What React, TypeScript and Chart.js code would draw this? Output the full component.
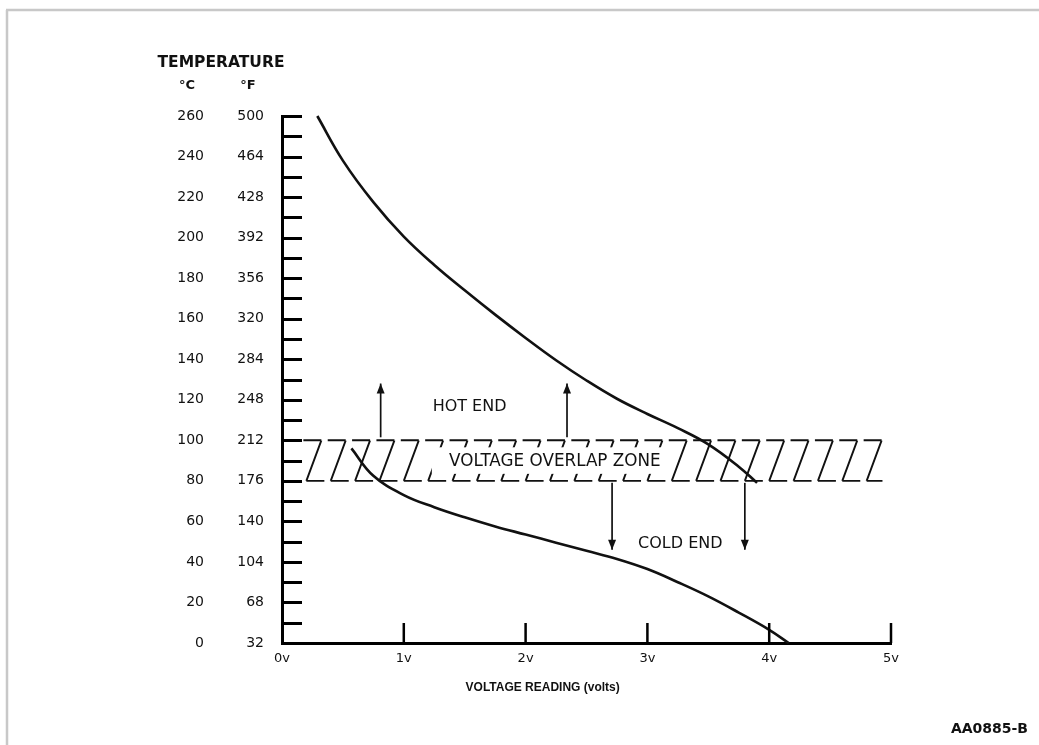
import React, { useEffect, useRef } from 'react';
import { Chart, registerables } from 'chart.js';

Chart.register(...registerables);

const FONT = "'DejaVu Sans', 'Liberation Sans', sans-serif";
const TITLE_FONT = "'Liberation Sans', Arial, sans-serif";

// Axis ticks
const celsiusTicks = [0, 20, 40, 60, 80, 100, 120, 140, 160, 180, 200, 220, 240, 260];
const celsiusLabels = ['0', '20', '40', '60', '80', '100', '120', '140', '160', '180', '200', '220', '240', '260'];
const fahrenheitLabels = ['32', '68', '104', '140', '176', '212', '248', '284', '320', '356', '392', '428', '464', '500'];
const minorCelsiusStep = 10;
const voltTicks = [0, 1, 2, 3, 4, 5];
const voltLabels = ['0v', '1v', '2v', '3v', '4v', '5v'];
const xAxisTitle = 'VOLTAGE READING (volts)';
const xAxisTitleVolt = 2.14;

// Curves
const hotEndVolts = [0.29, 0.5, 0.75, 1.0, 1.25, 1.5, 1.75, 2.0, 2.25, 2.5, 2.75, 3.0, 3.25, 3.5, 3.75, 3.9];
const hotEndTemps = [260, 238, 217.5, 200.5, 186.5, 174, 162, 150.5, 139.5, 129.5, 120.5, 113, 106, 98, 87, 79];
const coldEndVolts = [0.57, 0.75, 1.0, 1.25, 1.5, 1.75, 2.0, 2.25, 2.5, 2.75, 3.0, 3.25, 3.5, 3.75, 4.0, 4.16];
const coldEndTemps = [96, 82.5, 73, 67, 62, 57.5, 53.5, 49.5, 45.5, 41.5, 36.5, 30, 23, 15, 6.5, 0];

// Overlap zone
const overlapZoneVolts = [0.2, 4.93];
const overlapZoneTemps = [80, 100];
const hatchStepVolts = 0.2;
const overlapTextGapVolts = [1.23, 3.16];

// Arrows
const upArrowVolts = [0.81, 2.34];
const upArrowTemps = [100, 128];
const downArrowVolts = [2.71, 3.8];
const downArrowTemps = [80, 46];

// Annotations
const annotationTexts = ['HOT END', 'VOLTAGE OVERLAP ZONE', 'COLD END'];
const annotationVolts = [1.54, 2.24, 3.27];
const annotationTemps = [116.5, 89.3, 48.8];
const annotationSizes = [16, 16.8, 16];

const toPoints = (xs: number[], ys: number[]) => xs.map((x, i) => ({ x, y: ys[i] }));

const overlayPlugin = {
  id: 'overlay',
  beforeDraw(chart: any) {
    const ctx = chart.ctx;
    ctx.save();
    ctx.fillStyle = '#fff';
    ctx.fillRect(0, 0, chart.width, chart.height);
    ctx.strokeStyle = '#c8c8c8';
    ctx.lineWidth = 2.5;
    ctx.beginPath();
    ctx.moveTo(6, 10);
    ctx.lineTo(chart.width, 10);
    ctx.moveTo(7, 10);
    ctx.lineTo(7, chart.height);
    ctx.stroke();
    ctx.restore();
  },
  beforeDatasetsDraw(chart: any) {
    const ctx = chart.ctx;
    const xs = chart.scales.x;
    const ys = chart.scales.yC;
    const yTop = ys.getPixelForValue(overlapZoneTemps[1]);
    const yBot = ys.getPixelForValue(overlapZoneTemps[0]);
    const xEnd = xs.getPixelForValue(overlapZoneVolts[1]);
    ctx.save();
    ctx.strokeStyle = '#111';
    ctx.lineWidth = 1.9;
    ctx.beginPath();
    for (let v = overlapZoneVolts[0]; v < overlapZoneVolts[1] - 0.05; v += hatchStepVolts) {
      const xb = xs.getPixelForValue(v);
      const xt = xb + 15;
      ctx.moveTo(xb, yBot);
      ctx.lineTo(xt, yTop);
      ctx.moveTo(xt - 18, yTop);
      ctx.lineTo(Math.min(xt, xEnd), yTop);
      ctx.moveTo(xb, yBot);
      ctx.lineTo(Math.min(xb + 18, xEnd), yBot);
    }
    ctx.stroke();
    // mask behind the zone label
    const gx0 = xs.getPixelForValue(overlapTextGapVolts[0]);
    const gx1 = xs.getPixelForValue(overlapTextGapVolts[1]);
    ctx.fillStyle = '#fff';
    ctx.fillRect(gx0, yTop + 7, gx1 - gx0, yBot - yTop - 14);
    ctx.restore();
  },
  afterDraw(chart: any) {
    const ctx = chart.ctx;
    const xs = chart.scales.x;
    const ys = chart.scales.yC;
    const area = chart.chartArea;
    ctx.save();
    // y tick marks inside the plot
    ctx.strokeStyle = '#000';
    ctx.lineWidth = 3;
    ctx.beginPath();
    for (let t = ys.min; t <= ys.max; t += minorCelsiusStep) {
      const y = Math.round(ys.getPixelForValue(t)) + 0.5;
      ctx.moveTo(area.left, y);
      ctx.lineTo(area.left + 20, y);
    }
    ctx.stroke();
    // x tick marks inside the plot
    ctx.lineWidth = 2.5;
    ctx.beginPath();
    voltTicks.forEach((v) => {
      if (v === 0) return;
      const x = xs.getPixelForValue(v);
      ctx.moveTo(x, area.bottom);
      ctx.lineTo(x, area.bottom - 20);
    });
    ctx.stroke();

    // arrows
    const arrow = (x: number, y1: number, y2: number) => {
      ctx.lineWidth = 1.7;
      ctx.beginPath();
      ctx.moveTo(x, y1);
      ctx.lineTo(x, y2);
      ctx.stroke();
      const dir = y2 < y1 ? 1 : -1;
      ctx.beginPath();
      ctx.moveTo(x, y2);
      ctx.lineTo(x - 4, y2 + dir * 10);
      ctx.lineTo(x + 4, y2 + dir * 10);
      ctx.closePath();
      ctx.fill();
    };
    ctx.fillStyle = '#111';
    ctx.strokeStyle = '#111';
    upArrowVolts.forEach((v) => {
      arrow(xs.getPixelForValue(v), ys.getPixelForValue(upArrowTemps[0]) - 3, ys.getPixelForValue(upArrowTemps[1]));
    });
    downArrowVolts.forEach((v) => {
      arrow(xs.getPixelForValue(v), ys.getPixelForValue(downArrowTemps[0]) + 2, ys.getPixelForValue(downArrowTemps[1]));
    });

    // annotations
    ctx.fillStyle = '#111';
    ctx.textAlign = 'center';
    ctx.textBaseline = 'middle';
    annotationTexts.forEach((t, i) => {
      ctx.font = `${annotationSizes[i]}px ${FONT}`;
      ctx.fillText(t, xs.getPixelForValue(annotationVolts[i]), ys.getPixelForValue(annotationTemps[i]));
    });

    // x axis title
    ctx.font = `bold 12px ${TITLE_FONT}`;
    ctx.fillText(xAxisTitle, xs.getPixelForValue(xAxisTitleVolt), 688);

    // header
    ctx.font = `bold 15.5px ${FONT}`;
    ctx.fillText('TEMPERATURE', 221, 63);
    ctx.font = `bold 13px ${FONT}`;
    ctx.fillText('°C', 187, 86);
    ctx.fillText('°F', 248, 86);

    // figure id
    ctx.font = `bold 14px ${FONT}`;
    ctx.textAlign = 'right';
    ctx.fillText('AA0885-B', 1028, 729);
    ctx.restore();
  },
};

export default function App() {
  const ref = useRef<HTMLCanvasElement>(null);
  useEffect(() => {
    document.body.style.margin = '0';
    const lineStyle = {
      borderColor: '#111',
      borderWidth: 2.6,
      pointRadius: 0,
      tension: 0.4,
      yAxisID: 'yC',
      xAxisID: 'x',
      clip: 10,
    };
    const chart = new Chart(ref.current as HTMLCanvasElement, {
      type: 'line',
      data: {
        datasets: [
          { label: 'Hot end', data: toPoints(hotEndVolts, hotEndTemps), ...lineStyle } as any,
          { label: 'Cold end', data: toPoints(coldEndVolts, coldEndTemps), ...lineStyle } as any,
        ],
      },
      options: {
        responsive: false,
        animation: false,
        layout: { padding: { left: 150, right: 148, top: 116, bottom: 0 } },
        plugins: { legend: { display: false }, tooltip: { enabled: false }, title: { display: false } },
        scales: {
          x: {
            type: 'linear',
            position: 'bottom',
            min: 0,
            max: 5,
            afterBuildTicks: (s: any) => {
              s.ticks = voltTicks.map((v) => ({ value: v }));
            },
            afterFit: (s: any) => {
              s.height = 102;
            },
            grid: { display: false, drawTicks: false },
            border: { display: true, width: 3, color: '#000' },
            ticks: {
              callback: (_v: any, i: number) => voltLabels[i],
              font: { family: FONT, size: 13 },
              color: '#111',
              padding: 8,
              maxRotation: 0,
              autoSkip: false,
            },
          },
          yC: {
            type: 'linear',
            position: 'left',
            min: 0,
            max: 260,
            weight: 2,
            afterBuildTicks: (s: any) => {
              s.ticks = celsiusTicks.map((v) => ({ value: v }));
            },
            afterFit: (s: any) => {
              s.width = 68;
            },
            grid: { display: false, drawTicks: false },
            border: { display: false },
            ticks: {
              callback: (_v: any, i: number) => celsiusLabels[i],
              font: { family: FONT, size: 14 },
              color: '#111',
              padding: 14,
              autoSkip: false,
            },
          },
          yF: {
            type: 'linear',
            position: 'left',
            min: 0,
            max: 260,
            weight: 1,
            afterBuildTicks: (s: any) => {
              s.ticks = celsiusTicks.map((v) => ({ value: v }));
            },
            afterFit: (s: any) => {
              s.width = 64;
            },
            grid: { display: false, drawTicks: false },
            border: { display: true, width: 3, color: '#000' },
            ticks: {
              callback: (_v: any, i: number) => fahrenheitLabels[i],
              font: { family: FONT, size: 14 },
              color: '#111',
              padding: 18,
              autoSkip: false,
            },
          },
        },
      } as any,
      plugins: [overlayPlugin],
    });
    return () => chart.destroy();
  }, []);
  return (
    <canvas
      ref={ref}
      width={1039}
      height={745}
      style={{ display: 'block', width: '1039px', height: '745px' }}
    />
  );
}
